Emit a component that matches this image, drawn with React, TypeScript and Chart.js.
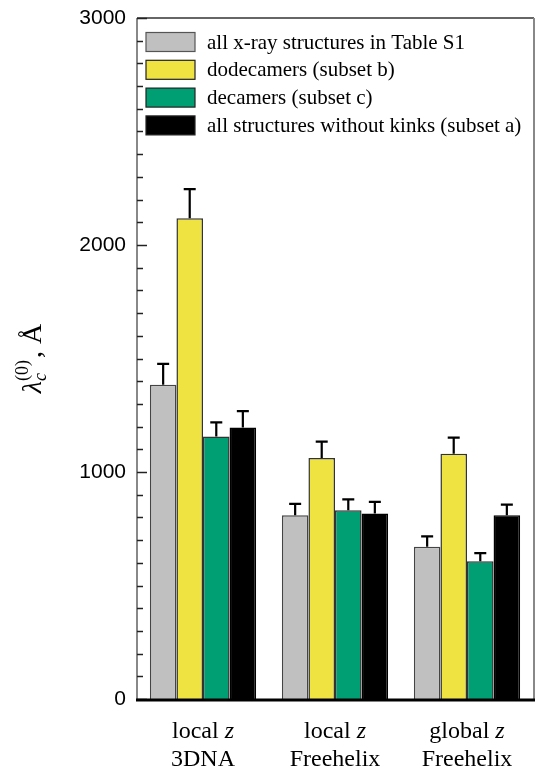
import React, { useEffect, useRef } from "react";
import { Chart, registerables } from "chart.js";

Chart.register(...registerables);

// ---- data ----
const categoryLine1 = ["local z", "local z", "global z"];
const categoryLine2 = ["3DNA", "Freehelix", "Freehelix"];

const seriesNames = [
  "all x-ray structures in Table S1",
  "dodecamers (subset b)",
  "decamers (subset c)",
  "all structures without kinks (subset a)",
];
const allXray = [1384, 809, 671];
const dodecamers = [2118, 1062, 1080];
const decamers = [1156, 832, 607];
const noKinks = [1196, 817, 809];

const allXrayErr = [92, 51, 45];
const dodecamersErr = [128, 72, 71];
const decamersErr = [63, 47, 36];
const noKinksErr = [72, 51, 47];

const yTickValues = [0, 1000, 2000, 3000];
const yMin = 0;
const yMax = 3000;
const yMinorStep = 100;

const colors = ["#c0c0c0", "#efe342", "#009e73", "#000000"];
const borderColors = ["#444444", "#333333", "#333333", "#000000"];

const SERIF = "'Liberation Serif', 'Times New Roman', serif";
const SANS = "'Liberation Sans', Arial, sans-serif";

const errorBarPlugin = {
  id: "errorBars",
  afterDatasetsDraw(chart: any) {
    const ctx = chart.ctx;
    const yScale = chart.scales.y;
    ctx.save();
    ctx.strokeStyle = "#000";
    ctx.lineWidth = 2.2;
    chart.data.datasets.forEach((ds: any, di: number) => {
      const meta = chart.getDatasetMeta(di);
      meta.data.forEach((bar: any, i: number) => {
        const v = ds.data[i];
        const e = ds.errors[i];
        const yTop = yScale.getPixelForValue(v + e);
        const yBar = yScale.getPixelForValue(v);
        ctx.beginPath();
        ctx.moveTo(bar.x, yBar);
        ctx.lineTo(bar.x, yTop);
        ctx.moveTo(bar.x - 6, yTop);
        ctx.lineTo(bar.x + 6, yTop);
        ctx.stroke();
      });
    });
    ctx.restore();
  },
};

const framePlugin = {
  id: "frame",
  afterDraw(chart: any) {
    const ctx = chart.ctx;
    const { left, right, top, bottom } = chart.chartArea;
    const yScale = chart.scales.y;
    const xScale = chart.scales.x;
    ctx.save();
    // top
    ctx.strokeStyle = "#333";
    ctx.lineWidth = 1.5;
    ctx.beginPath();
    ctx.moveTo(left, top);
    ctx.lineTo(right + 1, top);
    ctx.stroke();
    // right
    ctx.strokeStyle = "#888";
    ctx.lineWidth = 2;
    ctx.beginPath();
    ctx.moveTo(right + 1, top);
    ctx.lineTo(right + 1, bottom);
    ctx.stroke();
    // left
    ctx.beginPath();
    ctx.moveTo(left, top);
    ctx.lineTo(left, bottom);
    ctx.stroke();
    // minor / major ticks (inward)
    ctx.strokeStyle = "#222";
    ctx.lineWidth = 1.5;
    for (let v = yMin; v <= yMax; v += yMinorStep) {
      const y = Math.round(yScale.getPixelForValue(v)) + 0.5;
      const len = v % 1000 === 0 ? 10 : 6;
      ctx.beginPath();
      ctx.moveTo(left, y);
      ctx.lineTo(left + len, y);
      ctx.stroke();
    }
    // bottom axis
    ctx.strokeStyle = "#000";
    ctx.lineWidth = 3;
    ctx.beginPath();
    ctx.moveTo(left - 1, bottom + 1);
    ctx.lineTo(right + 2, bottom + 1);
    ctx.stroke();

    // x category labels (with italic z)
    ctx.fillStyle = "#000";
    ctx.textBaseline = "alphabetic";
    categoryLine1.forEach((lab, i) => {
      const cx = xScale.getPixelForValue(i);
      const parts = lab.split(" ");
      const normal = parts[0] + " ";
      const ital = parts[1];
      ctx.font = `24px ${SERIF}`;
      const w1 = ctx.measureText(normal).width;
      ctx.font = `italic 24px ${SERIF}`;
      const w2 = ctx.measureText(ital).width;
      const x0 = cx - (w1 + w2) / 2;
      ctx.font = `24px ${SERIF}`;
      ctx.textAlign = "left";
      ctx.fillText(normal, x0, 738);
      ctx.font = `italic 24px ${SERIF}`;
      ctx.fillText(ital, x0 + w1, 738);
      ctx.font = `24px ${SERIF}`;
      ctx.textAlign = "center";
      ctx.fillText(categoryLine2[i], cx, 766);
    });

    // legend
    const boxX = 146;
    const boxW = 49;
    const boxH = 19;
    const rowY0 = 42;
    const rowStep = 27.8;
    chart.data.datasets.forEach((ds: any, di: number) => {
      const cy = rowY0 + di * rowStep;
      ctx.fillStyle = ds.backgroundColor;
      ctx.fillRect(boxX, cy - boxH / 2, boxW, boxH);
      ctx.strokeStyle = di === 0 ? "#555" : "#222";
      ctx.lineWidth = 1.2;
      ctx.strokeRect(boxX, cy - boxH / 2, boxW, boxH);
      ctx.fillStyle = "#000";
      ctx.font = `21px ${SERIF}`;
      ctx.textAlign = "left";
      ctx.textBaseline = "middle";
      ctx.fillText(ds.label, 207, cy + 1);
    });

    // y axis title: λc(0), Å
    ctx.save();
    ctx.translate(41, (top + bottom) / 2);
    ctx.rotate(-Math.PI / 2);
    ctx.textBaseline = "alphabetic";
    ctx.textAlign = "left";
    const fMain = `italic 28px ${SERIF}`;
    const fSub = `italic 18px ${SERIF}`;
    const fSup = `18px ${SERIF}`;
    const fTail = `28px ${SERIF}`;
    ctx.font = fMain;
    const wL = ctx.measureText("λ").width;
    ctx.font = fSub;
    const wC = ctx.measureText("c").width;
    ctx.font = fSup;
    const wS = ctx.measureText("(0)").width;
    ctx.font = fTail;
    const wT = ctx.measureText(", Å").width;
    const total = wL + Math.max(wC, wS) + 2 + wT;
    let x = -total / 2;
    ctx.font = fMain;
    ctx.fillText("λ", x, 0);
    x += wL;
    ctx.font = fSub;
    ctx.fillText("c", x, 5);
    ctx.font = fSup;
    ctx.fillText("(0)", x, -13);
    x += Math.max(wC, wS) + 2;
    ctx.font = fTail;
    ctx.fillText(", Å", x, 0);
    ctx.restore();

    ctx.restore();
  },
};

export default function App() {
  const ref = useRef<HTMLCanvasElement | null>(null);
  useEffect(() => {
    if (!ref.current) return;
    const seriesValues = [allXray, dodecamers, decamers, noKinks];
    const seriesErrors = [allXrayErr, dodecamersErr, decamersErr, noKinksErr];
    const chart = new Chart(ref.current, {
      type: "bar",
      data: {
        labels: categoryLine1.map((l, i) => [l, categoryLine2[i]]),
        datasets: seriesNames.map((name, i) => ({
          label: name,
          data: seriesValues[i],
          errors: seriesErrors[i],
          backgroundColor: colors[i],
          borderColor: borderColors[i],
          borderWidth: 1.5,
          borderSkipped: "bottom",
          categoryPercentage: 0.805,
          barPercentage: 1.0,
        })) as any,
      },
      options: {
        responsive: false,
        animation: false,
        layout: { padding: { top: 18, right: 2, left: 0, bottom: 0 } },
        plugins: {
          legend: { display: false },
          tooltip: { enabled: false },
          title: { display: false },
        },
        scales: {
          x: {
            grid: { display: false },
            border: { display: false },
            ticks: { display: false },
            afterFit: (s: any) => {
              s.height = 74;
              s.paddingLeft = 0;
              s.paddingRight = 0;
            },
          },
          y: {
            min: yMin,
            max: yMax,
            grid: { display: false, drawTicks: false },
            border: { display: false },
            afterBuildTicks: (s: any) => {
              s.ticks = yTickValues.map((v) => ({ value: v }));
            },
            ticks: {
              padding: 11,
              color: "#000",
              font: { family: SANS, size: 21 },
              callback: (v: any) => String(v),
            },
            afterFit: (s: any) => {
              s.width = 137;
              s.paddingTop = 0;
              s.paddingBottom = 0;
            },
          },
        },
      },
      plugins: [errorBarPlugin, framePlugin],
    });
    return () => chart.destroy();
  }, []);
  return (
    <div style={{ position: "fixed", left: 0, top: 0, width: 535, height: 773, background: "#fff" }}>
      <canvas ref={ref} width={535} height={773} style={{ display: "block" }} />
    </div>
  );
}
